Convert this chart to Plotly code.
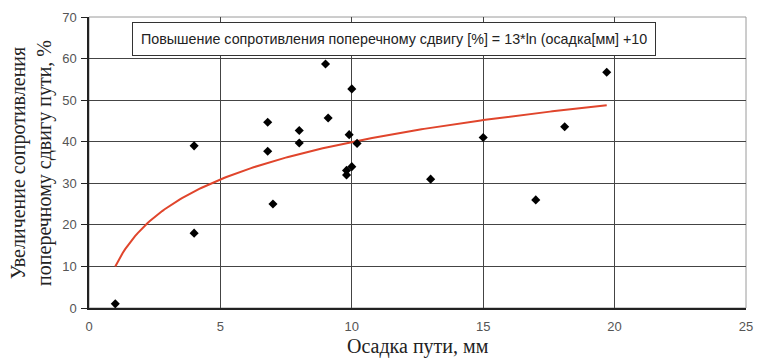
import numpy as np
import plotly.graph_objects as go

# Measured points: track settlement (mm) vs. lateral resistance increase (%)
settlement_mm = [1.0, 4.0, 4.0, 6.8, 6.8, 7.0, 8.0, 8.0, 9.0, 9.1, 9.8, 9.8,
                 9.9, 10.0, 10.0, 10.2, 13.0, 15.0, 17.0, 18.1, 19.7]
resistance_pct = [1, 39, 18, 44.7, 37.7, 25, 42.7, 39.7, 58.7, 45.7, 33.1, 32,
                  41.7, 52.7, 34, 39.6, 31, 41, 26, 43.6, 56.7]

# Fitted trend: 13*ln(settlement) + 10, drawn over the measured range
fit_start, fit_end = 1.0, 19.7
fit_coef, fit_offset = 13.0, 10.0

x_ticks = [0, 5, 10, 15, 20, 25]
y_ticks = [0, 10, 20, 30, 40, 50, 60, 70]

fit_label = "Повышение сопротивления поперечному сдвигу [%] = 13*ln (осадка[мм] +10"
x_title = "Осадка пути, мм"
y_title = "Увеличение сопротивления<br>поперечному сдвигу пути, %"

fit_x = np.linspace(fit_start, fit_end, 200)
fit_y = fit_coef * np.log(fit_x) + fit_offset

fig = go.Figure()
fig.add_trace(go.Scatter(
    x=fit_x, y=fit_y, mode="lines",
    line=dict(color="#e0452c", width=2),
    hoverinfo="skip", showlegend=False,
))
fig.add_trace(go.Scatter(
    x=settlement_mm, y=resistance_pct, mode="markers",
    marker=dict(symbol="diamond", size=7, color="black"),
    showlegend=False,
))

tick_font = dict(family="Liberation Sans, Arial, sans-serif", size=13, color="#555555")
serif = "Liberation Serif, Times New Roman, serif"

fig.update_xaxes(
    range=[0, 25], tickvals=x_ticks, ticks="", showline=True,
    linecolor="#222222", linewidth=1.5, mirror=False,
    showgrid=True, gridcolor="#444444", gridwidth=1,
    zeroline=False, tickfont=tick_font, ticklabelstandoff=6,
    fixedrange=True,
)
fig.update_yaxes(
    range=[0, 70], tickvals=y_ticks, ticks="outside", ticklen=6,
    tickcolor="#222222", showline=True, linecolor="#222222", linewidth=1.5,
    showgrid=True, gridcolor="#444444", gridwidth=1,
    zeroline=False, tickfont=tick_font, ticklabelstandoff=2,
    fixedrange=True,
)

# Light frame around the plotting area
fig.add_shape(type="rect", xref="paper", yref="paper", x0=0, y0=0, x1=1, y1=1,
              line=dict(color="#9a9a9a", width=1), layer="below")

# Equation box
fig.add_annotation(
    x=11.6, y=64.6, xref="x", yref="y", text=fit_label, showarrow=False,
    font=dict(family="Liberation Sans, Arial, sans-serif", size=14.3, color="#222222"),
    bgcolor="white", bordercolor="#333333", borderwidth=1, borderpad=8,
)

# Axis titles
fig.add_annotation(
    x=0.5, y=-0.133, xref="paper", yref="paper", text=x_title, showarrow=False,
    xanchor="center", yanchor="middle",
    font=dict(family=serif, size=20, color="#222222"),
)
fig.add_annotation(
    x=-0.128, y=0.5, xref="paper", yref="paper", text=y_title, showarrow=False,
    textangle=-90, xanchor="left", yanchor="middle",
    font=dict(family=serif, size=20, color="#222222"),
)

fig.update_layout(
    width=763, height=359,
    margin=dict(l=89, r=10, t=15, b=51),
    paper_bgcolor="white", plot_bgcolor="white",
    showlegend=False,
)

fig.write_html("out.html")
